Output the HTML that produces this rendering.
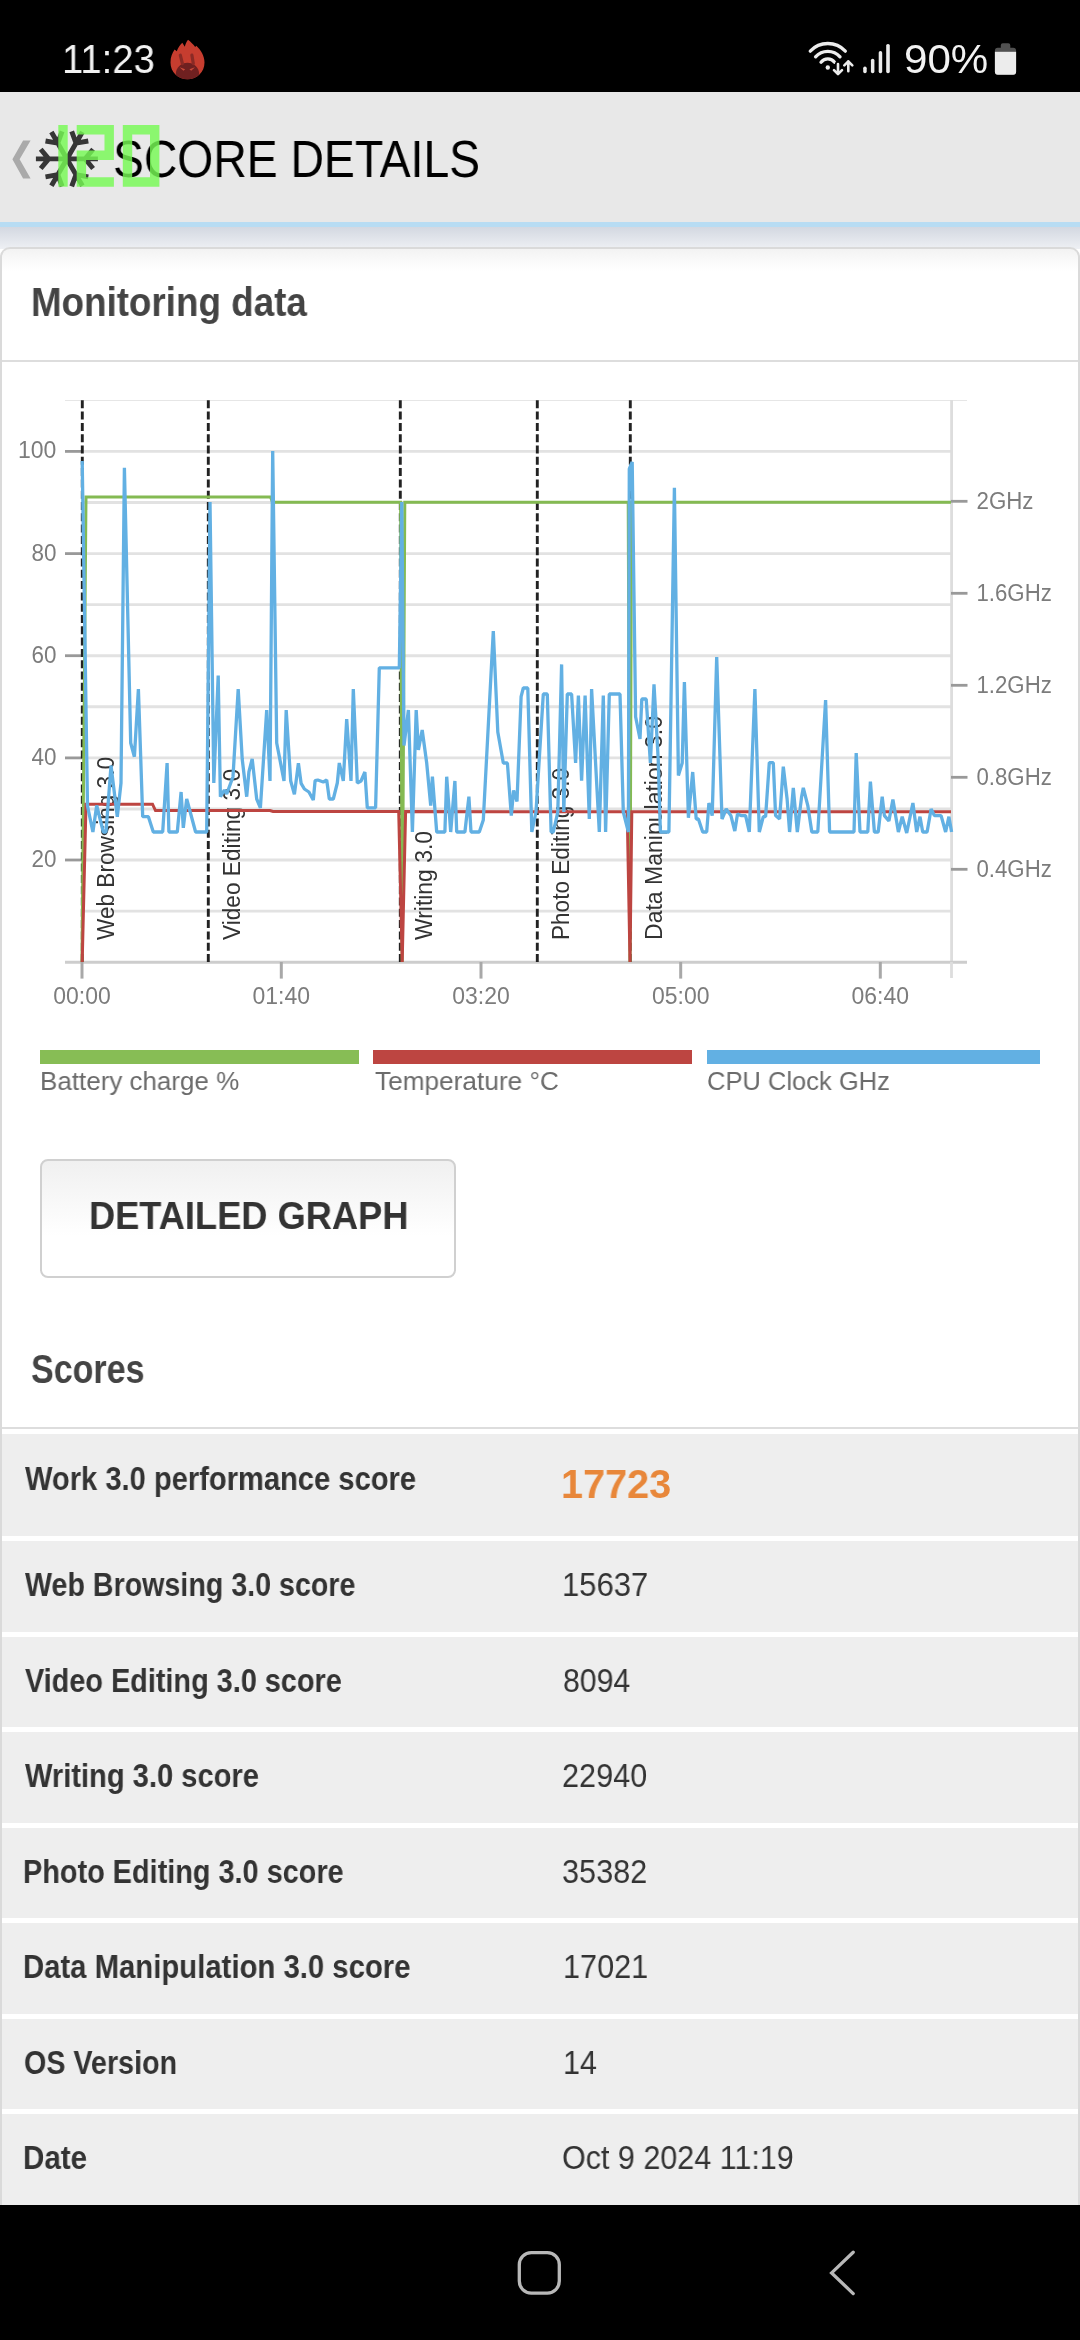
<!DOCTYPE html>
<html><head><meta charset="utf-8"><title>Score details</title>
<style>
*{margin:0;padding:0;box-sizing:border-box}
html,body{width:1080px;height:2340px;overflow:hidden;background:#fff;font-family:"Liberation Sans",sans-serif}
.t{position:absolute;white-space:nowrap;transform-origin:0 50%;display:inline-block;will-change:transform}
#status{position:absolute;left:0;top:0;width:1080px;height:92px;background:#000}
#header{position:absolute;left:0;top:92px;width:1080px;height:130px;background:#e8e8e8}
#blue{position:absolute;left:0;top:222px;width:1080px;height:5px;background:#b7dcf3}
#grad{position:absolute;left:0;top:227px;width:1080px;height:22px;background:linear-gradient(#d3d8e1,#eef0f4)}
#card{position:absolute;left:0;top:247px;width:1080px;height:1960px;border:2px solid #dadada;border-radius:10px 10px 0 0;border-bottom:none;background:#fff linear-gradient(#f3f3f3,#fff 22px)}
#sep1{position:absolute;left:2px;top:360px;width:1076px;height:2px;background:#ddd}
.chart{position:absolute;left:0;top:362px;will-change:transform}
.leg{position:absolute;top:1050px;height:14px}
#btn{position:absolute;left:40px;top:1159px;width:416px;height:118.5px;border:2px solid #d0d0d0;border-radius:8px;background:linear-gradient(#f0f0f0,#fff 65%)}
#sep2{position:absolute;left:2px;top:1427px;width:1076px;height:2px;background:#ddd}
.row{position:absolute;left:2px;width:1076px;background:#eee}
#nav{position:absolute;left:0;top:2205px;width:1080px;height:135px;background:#000}
</style></head><body>
<div id="status"></div>
<div id="header"></div>
<div id="blue"></div><div id="grad"></div>
<div id="card"></div>
<div id="sep1"></div>
<svg class="chart" width="1080" height="700" viewBox="0 362 1080 700">
<style>.ax{font-family:"Liberation Sans",sans-serif;font-size:23px;fill:#7c7c7c}.mk{font-family:"Liberation Sans",sans-serif;font-size:23px;fill:#333}</style>
<line x1="82" y1="911.1" x2="951" y2="911.1" stroke="#e2e2e2" stroke-width="2.9"/>
<line x1="82" y1="860.0" x2="951" y2="860.0" stroke="#e2e2e2" stroke-width="2.9"/>
<line x1="82" y1="809.0" x2="951" y2="809.0" stroke="#e2e2e2" stroke-width="2.9"/>
<line x1="82" y1="757.9" x2="951" y2="757.9" stroke="#e2e2e2" stroke-width="2.9"/>
<line x1="82" y1="706.8" x2="951" y2="706.8" stroke="#e2e2e2" stroke-width="2.9"/>
<line x1="82" y1="655.7" x2="951" y2="655.7" stroke="#e2e2e2" stroke-width="2.9"/>
<line x1="82" y1="604.6" x2="951" y2="604.6" stroke="#e2e2e2" stroke-width="2.9"/>
<line x1="82" y1="553.6" x2="951" y2="553.6" stroke="#e2e2e2" stroke-width="2.9"/>
<line x1="82" y1="502.5" x2="951" y2="502.5" stroke="#e2e2e2" stroke-width="2.9"/>
<line x1="82" y1="451.4" x2="951" y2="451.4" stroke="#e2e2e2" stroke-width="2.9"/>
<line x1="65" y1="400.5" x2="967" y2="400.5" stroke="#e6e6e6" stroke-width="1.2"/>
<line x1="951.6" y1="400" x2="951.6" y2="962" stroke="#ddd" stroke-width="2.8"/>
<line x1="65" y1="962.3" x2="967" y2="962.3" stroke="#cdcdcd" stroke-width="3"/>
<line x1="65" y1="860.0" x2="82" y2="860.0" stroke="#999" stroke-width="2.8"/>
<text x="56.4" y="866.9" text-anchor="end" class="ax" textLength="25" lengthAdjust="spacingAndGlyphs">20</text>
<line x1="65" y1="757.9" x2="82" y2="757.9" stroke="#999" stroke-width="2.8"/>
<text x="56.4" y="764.8" text-anchor="end" class="ax" textLength="25" lengthAdjust="spacingAndGlyphs">40</text>
<line x1="65" y1="655.7" x2="82" y2="655.7" stroke="#999" stroke-width="2.8"/>
<text x="56.4" y="662.6" text-anchor="end" class="ax" textLength="25" lengthAdjust="spacingAndGlyphs">60</text>
<line x1="65" y1="553.6" x2="82" y2="553.6" stroke="#999" stroke-width="2.8"/>
<text x="56.4" y="560.5" text-anchor="end" class="ax" textLength="25" lengthAdjust="spacingAndGlyphs">80</text>
<line x1="65" y1="451.4" x2="82" y2="451.4" stroke="#999" stroke-width="2.8"/>
<text x="56.4" y="458.3" text-anchor="end" class="ax" textLength="38.4" lengthAdjust="spacingAndGlyphs">100</text>
<line x1="951" y1="501.3" x2="967.5" y2="501.3" stroke="#999" stroke-width="2.8"/>
<text x="976.5" y="509.3" class="ax" textLength="57" lengthAdjust="spacingAndGlyphs">2GHz</text>
<line x1="951" y1="593.3" x2="967.5" y2="593.3" stroke="#999" stroke-width="2.8"/>
<text x="976.5" y="601.3" class="ax" textLength="75.3" lengthAdjust="spacingAndGlyphs">1.6GHz</text>
<line x1="951" y1="685.3" x2="967.5" y2="685.3" stroke="#999" stroke-width="2.8"/>
<text x="976.5" y="693.3" class="ax" textLength="75.3" lengthAdjust="spacingAndGlyphs">1.2GHz</text>
<line x1="951" y1="777.3" x2="967.5" y2="777.3" stroke="#999" stroke-width="2.8"/>
<text x="976.5" y="785.3" class="ax" textLength="75.3" lengthAdjust="spacingAndGlyphs">0.8GHz</text>
<line x1="951" y1="869.3" x2="967.5" y2="869.3" stroke="#999" stroke-width="2.8"/>
<text x="976.5" y="877.3" class="ax" textLength="75.3" lengthAdjust="spacingAndGlyphs">0.4GHz</text>
<line x1="82" y1="962" x2="82" y2="978.6" stroke="#a8a8a8" stroke-width="3"/>
<text x="82" y="1004.3" text-anchor="middle" class="ax" textLength="57.5" lengthAdjust="spacingAndGlyphs">00:00</text>
<line x1="281.3" y1="962" x2="281.3" y2="978.6" stroke="#a8a8a8" stroke-width="3"/>
<text x="281.3" y="1004.3" text-anchor="middle" class="ax" textLength="57.5" lengthAdjust="spacingAndGlyphs">01:40</text>
<line x1="481" y1="962" x2="481" y2="978.6" stroke="#a8a8a8" stroke-width="3"/>
<text x="481" y="1004.3" text-anchor="middle" class="ax" textLength="57.5" lengthAdjust="spacingAndGlyphs">03:20</text>
<line x1="680.7" y1="962" x2="680.7" y2="978.6" stroke="#a8a8a8" stroke-width="3"/>
<text x="680.7" y="1004.3" text-anchor="middle" class="ax" textLength="57.5" lengthAdjust="spacingAndGlyphs">05:00</text>
<line x1="880.3" y1="962" x2="880.3" y2="978.6" stroke="#a8a8a8" stroke-width="3"/>
<text x="880.3" y="1004.3" text-anchor="middle" class="ax" textLength="57.5" lengthAdjust="spacingAndGlyphs">06:40</text>
<line x1="951.5" y1="962" x2="951.5" y2="978" stroke="#ddd" stroke-width="2.8"/>
<line x1="82.3" y1="400.3" x2="82.3" y2="962" stroke="#222" stroke-width="2.9" stroke-dasharray="8,3.3"/>
<line x1="208.3" y1="400.3" x2="208.3" y2="962" stroke="#222" stroke-width="2.9" stroke-dasharray="8,3.3"/>
<line x1="400.3" y1="400.3" x2="400.3" y2="962" stroke="#222" stroke-width="2.9" stroke-dasharray="8,3.3"/>
<line x1="537.3" y1="400.3" x2="537.3" y2="962" stroke="#222" stroke-width="2.9" stroke-dasharray="8,3.3"/>
<line x1="630.3" y1="400.3" x2="630.3" y2="962" stroke="#222" stroke-width="2.9" stroke-dasharray="8,3.3"/>
<text transform="translate(114.2,940) rotate(-90)" class="mk" textLength="183" lengthAdjust="spacingAndGlyphs">Web Browsing 3.0</text>
<text transform="translate(240.2,940) rotate(-90)" class="mk" textLength="171" lengthAdjust="spacingAndGlyphs">Video Editing 3.0</text>
<text transform="translate(432.2,940) rotate(-90)" class="mk" textLength="109" lengthAdjust="spacingAndGlyphs">Writing 3.0</text>
<text transform="translate(569.2,940) rotate(-90)" class="mk" textLength="172" lengthAdjust="spacingAndGlyphs">Photo Editing 3.0</text>
<text transform="translate(662.2,940) rotate(-90)" class="mk" textLength="224" lengthAdjust="spacingAndGlyphs">Data Manipulation 3.0</text>
<polyline points="82.0,962.0 86.0,497.0 270.5,497.0 272.5,502.2 400.6,502.2 402.2,962.0 404.8,502.2 628.2,502.2 630.0,962.0 631.5,502.2 951.0,502.2" fill="none" stroke="#84ba52" stroke-width="3" stroke-linejoin="miter"/>
<polyline points="82.2,962.0 86.0,804.2 152.5,804.2 155.5,810.6 270.0,810.6 273.0,811.5 398.7,811.5 402.2,962.0 405.6,811.5 627.2,811.8 630.0,962.0 631.8,811.8 951.0,811.8" fill="none" stroke="#bd4541" stroke-width="3" stroke-linejoin="miter"/>
<polyline points="82.2,461.0 87.5,806.0 92.9,832.0 96.7,805.5 103.3,832.0 106.0,832.0 111.0,765.5 117.3,816.7 121.0,783.0 124.4,467.8 130.7,743.0 134.4,756.7 138.4,689.0 142.7,816.7 148.4,816.7 153.3,832.0 162.7,832.0 167.1,763.0 168.9,832.0 177.3,832.0 181.1,792.0 183.3,827.8 186.7,799.0 195.6,832.0 206.7,832.0 210.0,502.0 213.8,783.0 218.2,675.5 220.4,796.7 224.4,790.0 226.7,794.0 233.0,776.7 238.2,689.0 242.2,759.0 246.7,796.7 248.9,772.0 252.2,759.0 256.7,799.0 260.4,807.8 266.7,710.0 270.0,781.0 272.7,451.0 276.7,743.0 284.0,781.0 286.2,710.0 290.7,781.0 294.4,794.4 298.4,763.3 301.1,783.3 304.4,789.0 308.9,792.0 313.3,800.0 315.1,780.7 317.8,780.0 323.3,782.0 326.7,780.0 329.3,799.0 333.3,799.0 337.3,783.0 339.3,763.0 343.3,781.0 346.7,719.0 351.0,781.0 353.3,689.0 357.3,783.0 361.0,781.0 364.9,772.0 367.3,807.8 375.6,807.8 379.3,667.8 399.3,667.8 401.8,502.0 404.0,745.6 408.4,710.0 412.4,832.0 416.2,710.0 418.4,750.0 422.2,730.0 426.7,763.0 430.7,805.6 432.4,776.7 436.7,832.0 444.9,832.0 446.7,776.7 450.7,832.0 454.9,781.0 456.7,832.0 464.9,832.0 468.9,796.7 471.0,832.0 479.3,832.0 483.3,820.0 493.3,631.0 497.8,732.0 503.3,763.0 507.4,763.0 511.3,815.6 513.6,790.5 517.0,801.5 521.1,696.7 523.3,688.0 527.8,688.0 531.8,832.0 536.0,812.0 543.3,694.0 547.3,694.0 551.1,832.0 553.3,832.0 557.8,812.0 561.6,664.4 563.8,812.0 567.3,694.0 571.6,694.0 575.6,763.0 578.4,695.6 581.6,780.7 585.1,695.6 589.3,819.0 591.6,689.0 599.3,832.0 603.3,695.6 605.6,832.0 609.3,694.0 620.0,694.0 623.3,812.0 628.4,832.0 629.3,469.0 632.2,462.0 635.6,716.7 640.0,739.0 641.8,699.0 646.2,699.0 650.4,763.0 654.0,684.4 658.2,759.0 660.4,832.0 668.9,832.0 674.4,487.8 678.4,775.6 682.2,763.0 684.4,682.0 688.4,817.8 692.7,772.0 696.2,819.0 698.4,819.0 702.7,832.0 706.7,832.0 708.9,803.0 712.2,815.6 716.7,657.0 722.0,819.0 726.2,809.0 730.9,815.6 734.8,831.0 737.5,814.0 741.0,815.6 745.6,815.6 749.3,832.0 754.9,689.0 759.3,832.0 763.3,816.7 765.6,816.7 769.3,762.7 773.3,762.7 775.6,815.6 779.6,819.0 783.3,766.7 787.1,799.0 789.6,832.0 793.3,787.8 797.3,832.0 801.6,796.7 803.3,787.8 807.8,805.6 811.8,832.0 817.8,832.0 825.6,700.0 829.6,832.0 854.0,832.0 856.2,753.0 860.0,832.0 867.8,832.0 870.4,781.6 874.4,832.0 878.2,832.0 882.2,796.7 884.4,815.6 888.9,821.0 892.9,799.6 898.4,832.0 902.2,816.7 906.7,833.0 912.9,803.0 916.7,832.0 920.0,816.7 922.7,832.0 927.1,832.0 931.1,809.0 934.4,815.6 941.1,815.6 945.6,832.0 948.9,816.7 951.6,832.0" fill="none" stroke="#62b0e3" stroke-width="3.3" stroke-linejoin="bevel"/>
</svg>
<div class="leg" style="left:40px;width:319px;background:#87bd55"></div>
<div class="leg" style="left:373.3px;width:319px;background:#bd4541"></div>
<div class="leg" style="left:706.7px;width:333.3px;background:#62b0e3"></div>
<div id="btn"></div>
<div id="sep2"></div>
<div class="row" style="top:1434px;height:102px"></div>
<div class="row" style="top:1541.0px;height:90.5px"></div>
<div class="row" style="top:1636.5px;height:90.5px"></div>
<div class="row" style="top:1732.0px;height:90.5px"></div>
<div class="row" style="top:1827.5px;height:90.5px"></div>
<div class="row" style="top:1923.0px;height:90.5px"></div>
<div class="row" style="top:2018.5px;height:90.5px"></div>
<div class="row" style="top:2114.0px;height:90.5px"></div>
<div id="nav"></div>
<svg style="position:absolute;left:0;top:0" width="1080" height="230" viewBox="0 0 1080 230"><g transform="translate(160,30)">
<clipPath id="fl"><path id="flp" d="M27.5,49.3 C18,49.3 10.5,42 10.5,32.5 C10.5,27 12.3,23 14.6,19.6 L16.8,21.3 C18,17.5 20,15 22.3,12.7 L24.8,16.8 C25.5,14 26.5,11.8 28,9.8 C30.5,11.8 33.5,14.5 35.2,17 L36.3,15.8 C41,20 44.5,26 44.5,32.5 C44.5,42 37,49.3 27.5,49.3 Z"/></clipPath>
<path d="M27.5,49.3 C18,49.3 10.5,42 10.5,32.5 C10.5,27 12.3,23 14.6,19.6 L16.8,21.3 C18,17.5 20,15 22.3,12.7 L24.8,16.8 C25.5,14 26.5,11.8 28,9.8 C30.5,11.8 33.5,14.5 35.2,17 L36.3,15.8 C41,20 44.5,26 44.5,32.5 C44.5,42 37,49.3 27.5,49.3 Z" fill="#c63d2f"/>
<g clip-path="url(#fl)"><ellipse cx="27.5" cy="43.5" rx="11.6" ry="10.7" fill="#6f2020"/></g>
<path d="M20.3,25.2 L22.4,33.6 M31.9,25.2 L33.3,33.6" stroke="#8a2a25" stroke-width="3.2" stroke-linecap="round" fill="none"/>
<path d="M19.6,37.2 L25.2,39.2 L23.4,40.8 Z M35,37.2 L29.4,39.2 L31.2,40.8 Z" fill="#c94a3a"/>
</g><g fill="none" stroke="#ececec" stroke-width="3.3" stroke-linecap="round">
<path d="M810.25,51.13 A24.0,24.0 0 0 1 845.35,51.13"/>
<path d="M815.57,56.87 A16.2,16.2 0 0 1 840.03,56.87"/>
<path d="M821.02,62.21 A8.6,8.6 0 0 1 834.58,62.21"/>
</g>
<circle cx="827.8" cy="67.5" r="2.2" fill="#ececec"/>
<g fill="none" stroke="#000" stroke-width="6" stroke-linecap="round" stroke-linejoin="round"><path d="M838,64 V73.6 M834,70.2 L838,74.2 L842,70.2"/></g>
<g fill="none" stroke="#ececec" stroke-width="2.6" stroke-linecap="round" stroke-linejoin="round">
<path d="M838,64 V73.6 M834,70.2 L838,74.2 L842,70.2"/>
<path d="M848.3,71.2 V61.4 M844.3,65.3 L848.3,61.3 L852.3,65.3"/>
</g><rect x="863.2" y="66.6" width="3.5" height="6.7" rx="1.7" fill="#ececec"/><rect x="870.9" y="58.7" width="3.5" height="14.6" rx="1.7" fill="#ececec"/><rect x="878.7" y="51.1" width="3.5" height="22.2" rx="1.7" fill="#ececec"/><rect x="886.2" y="43.9" width="3.6" height="29.4" rx="1.7" fill="#ececec"/><clipPath id="bc"><path d="M1000.8,45.3 a2,2 0 0 1 2,-2 h5.5 a2,2 0 0 1 2,2 v2.5 h2.9 a2.9,2.9 0 0 1 2.9,2.9 v21.1 a2.9,2.9 0 0 1 -2.9,2.9 h-15.4 a2.9,2.9 0 0 1 -2.9,-2.9 v-21.1 a2.9,2.9 0 0 1 2.9,-2.9 h3 z"/></clipPath>
<g clip-path="url(#bc)"><rect x="990" y="40" width="30" height="40" fill="#515151"/><rect x="990" y="51.8" width="30" height="30" fill="#ececec"/></g><polygon points="23.1,140.6 30.6,140.6 19.6,159.3 30.6,178.5 23.1,178.5 12.4,159.3" fill="#aaa"/><path d="M66.9,158.9 L97.9,158.9 M85.1,158.9 L93.1,149.3 M85.1,158.9 L93.1,168.5 M66.9,158.9 L82.4,185.7 M76.0,174.7 L88.3,176.8 M76.0,174.7 L71.7,186.4 M66.9,158.9 L51.4,185.7 M57.8,174.7 L62.1,186.4 M57.8,174.7 L45.5,176.8 M66.9,158.9 L35.9,158.9 M48.7,158.9 L40.7,168.5 M48.7,158.9 L40.7,149.3 M66.9,158.9 L51.4,132.1 M57.8,143.1 L45.5,141.0 M57.8,143.1 L62.1,131.4 M66.9,158.9 L82.4,132.1 M76.0,143.1 L71.7,131.4 M76.0,143.1 L88.3,141.0 " stroke="#363636" stroke-width="4.9" fill="none" stroke-linecap="butt"/></svg>
<svg style="position:absolute;left:0;top:2205px" width="1080" height="135" viewBox="0 2205 1080 135"><rect x="519.3" y="2252.6" width="40" height="40.5" rx="12" fill="none" stroke="#b8b8b8" stroke-width="3.3"/>
<path d="M853.2,2252.2 L831.6,2272.9 L853.2,2293.6" fill="none" stroke="#b8b8b8" stroke-width="3.3" stroke-linecap="round" stroke-linejoin="miter"/></svg>

<div class="t" id="time" style="left:62.16px;top:33.0px;font-size:40px;line-height:52px;font-weight:normal;color:#f2f2f2;transform:scaleX(0.9549)">11:23</div>
<div class="t" id="pct" style="left:903.90px;top:33.0px;font-size:40px;line-height:52px;font-weight:normal;color:#f2f2f2;transform:scaleX(1.0519)">90%</div>
<div class="t" id="title" style="left:113.18px;top:126.7px;font-size:51px;line-height:66px;font-weight:normal;color:#000;transform:scaleX(0.9079)">SCORE DETAILS</div>
<div class="t" id="mon" style="left:30.64px;top:275.7px;font-size:40px;line-height:52px;font-weight:bold;color:#444;transform:scaleX(0.9192)">Monitoring data</div>
<div class="t" id="lg1" style="left:39.55px;top:1063.7px;font-size:26.5px;line-height:34px;font-weight:normal;color:#6b6b6b;transform:scaleX(0.9801)">Battery charge %</div>
<div class="t" id="lg2" style="left:374.50px;top:1063.7px;font-size:26.5px;line-height:34px;font-weight:normal;color:#6b6b6b;transform:scaleX(0.9892)">Temperature °C</div>
<div class="t" id="lg3" style="left:706.56px;top:1063.7px;font-size:26.5px;line-height:34px;font-weight:normal;color:#6b6b6b;transform:scaleX(0.9628)">CPU Clock GHz</div>
<div class="t" id="btnt" style="left:88.65px;top:1190.1px;font-size:39.5px;line-height:51px;font-weight:bold;color:#333;transform:scaleX(0.9174)">DETAILED GRAPH</div>
<div class="t" id="scores" style="left:30.70px;top:1342.7px;font-size:40px;line-height:52px;font-weight:bold;color:#444;transform:scaleX(0.8504)">Scores</div>
<div class="t" id="k0" style="left:24.53px;top:1457.6px;font-size:32.5px;line-height:42px;font-weight:bold;color:#333;transform:scaleX(0.8957)">Work 3.0 performance score</div>
<div class="t" id="v0" style="left:560.54px;top:1458.0px;font-size:40px;line-height:52px;font-weight:bold;color:#e8873a;transform:scaleX(0.9907)">17723</div>
<div class="t" id="k1" style="left:24.53px;top:1564.2px;font-size:32.5px;line-height:42px;font-weight:bold;color:#333;transform:scaleX(0.8809)">Web Browsing 3.0 score</div>
<div class="t" id="v1" style="left:561.61px;top:1564.2px;font-size:32.5px;line-height:42px;font-weight:normal;color:#333;transform:scaleX(0.9540)">15637</div>
<div class="t" id="k2" style="left:24.53px;top:1659.7px;font-size:32.5px;line-height:42px;font-weight:bold;color:#333;transform:scaleX(0.8872)">Video Editing 3.0 score</div>
<div class="t" id="v2" style="left:562.61px;top:1659.7px;font-size:32.5px;line-height:42px;font-weight:normal;color:#333;transform:scaleX(0.9296)">8094</div>
<div class="t" id="k3" style="left:24.55px;top:1755.2px;font-size:32.5px;line-height:42px;font-weight:bold;color:#333;transform:scaleX(0.8951)">Writing 3.0 score</div>
<div class="t" id="v3" style="left:562.06px;top:1755.2px;font-size:32.5px;line-height:42px;font-weight:normal;color:#333;transform:scaleX(0.9432)">22940</div>
<div class="t" id="k4" style="left:22.76px;top:1850.7px;font-size:32.5px;line-height:42px;font-weight:bold;color:#333;transform:scaleX(0.8878)">Photo Editing 3.0 score</div>
<div class="t" id="v4" style="left:562.06px;top:1850.7px;font-size:32.5px;line-height:42px;font-weight:normal;color:#333;transform:scaleX(0.9432)">35382</div>
<div class="t" id="k5" style="left:22.72px;top:1946.2px;font-size:32.5px;line-height:42px;font-weight:bold;color:#333;transform:scaleX(0.9015)">Data Manipulation 3.0 score</div>
<div class="t" id="v5" style="left:562.64px;top:1946.2px;font-size:32.5px;line-height:42px;font-weight:normal;color:#333;transform:scaleX(0.9425)">17021</div>
<div class="t" id="k6" style="left:23.68px;top:2041.7px;font-size:32.5px;line-height:42px;font-weight:bold;color:#333;transform:scaleX(0.8830)">OS Version</div>
<div class="t" id="v6" style="left:562.65px;top:2041.7px;font-size:32.5px;line-height:42px;font-weight:normal;color:#333;transform:scaleX(0.9394)">14</div>
<div class="t" id="k7" style="left:22.72px;top:2137.2px;font-size:32.5px;line-height:42px;font-weight:bold;color:#333;transform:scaleX(0.9104)">Date</div>
<div class="t" id="v7" style="left:562.06px;top:2137.2px;font-size:32.5px;line-height:42px;font-weight:normal;color:#333;transform:scaleX(0.9385)">Oct 9 2024 11:19</div>
<svg style="position:absolute;left:0;top:100px;z-index:5" width="200" height="110" viewBox="0 100 200 110"><g fill="rgba(118,250,84,0.82)">
<rect x="58.3" y="125" width="9.4" height="61.7"/>
<path d="M76.7,125 H113.9 V160 H86.1 V177.3 H113.9 V186.7 H76.7 V150.6 H104.5 V134.4 H76.7 Z"/>
<path fill-rule="evenodd" d="M122.8,125 H159.4 V186.7 H122.8 Z M132.2,134.4 V177.3 H150 V134.4 Z"/>
</g></svg>
</body></html>
